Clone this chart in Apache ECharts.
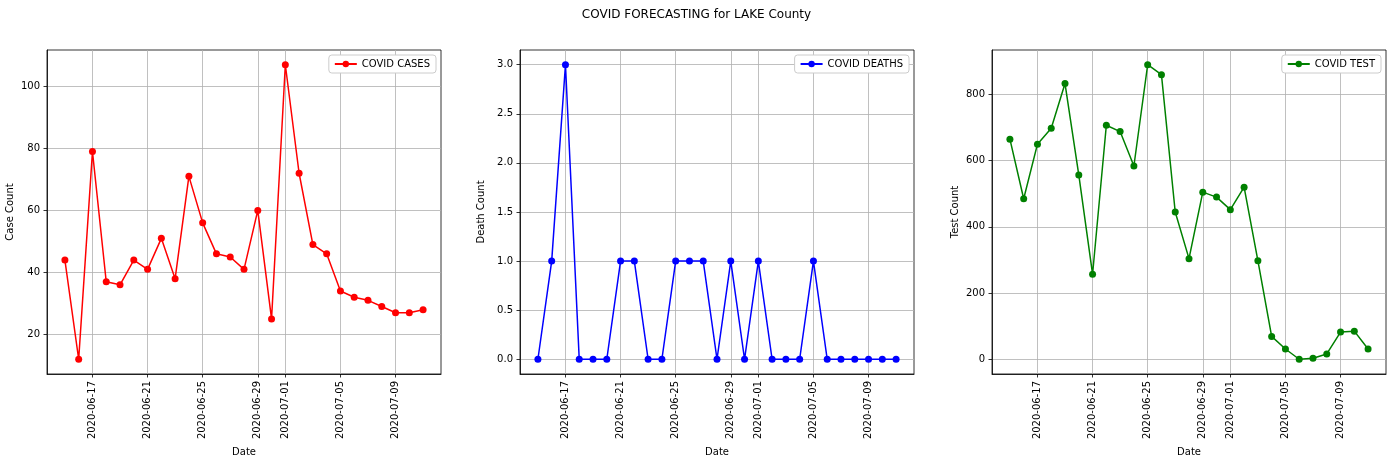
<!DOCTYPE html>
<html>
<head>
<meta charset="utf-8">
<script src="https://cdn.jsdelivr.net/npm/echarts@6/dist/echarts.min.js"></script>
<style>html,body{margin:0;padding:0;background:#fff}#c{width:1393px;height:462px}</style>
</head>
<body>
<div id="c"></div>
<script>
const dates = ['2020-06-15','2020-06-16','2020-06-17','2020-06-18','2020-06-19','2020-06-20','2020-06-21','2020-06-22','2020-06-23','2020-06-24','2020-06-25','2020-06-26','2020-06-27','2020-06-28','2020-06-29','2020-06-30','2020-07-01','2020-07-02','2020-07-03','2020-07-04','2020-07-05','2020-07-06','2020-07-07','2020-07-08','2020-07-09','2020-07-10','2020-07-11'];
const cases = [44,12,79,37,36,44,41,51,38,71,56,46,45,41,60,25,107,72,49,46,34,32,31,29,27,27,28];
const deaths = [0,1,3,0,0,0,1,1,0,0,1,1,1,0,1,0,1,0,0,0,1,0,0,0,0,0,0];
const tests = [665,485,650,698,833,557,257,707,688,584,890,860,445,304,505,490,452,520,298,69,31,0,3,16,82,85,31];
const xTickLabels = ['2020-06-17','2020-06-21','2020-06-25','2020-06-29','2020-07-01','2020-07-05','2020-07-09'];
const caseTicks = [20,40,60,80,100];
const deathTicks = [0,0.5,1,1.5,2,2.5,3];
const testTicks = [0,200,400,600,800];

const FONT = 'DejaVu Sans';
const xTickIdx = xTickLabels.map(d => dates.indexOf(d));
const panels = [
  {name:'COVID CASES', data:cases, color:'#ff0000', yName:'Case Count', ticks:caseTicks, left:47, gap:32, fmt:v=>String(v)},
  {name:'COVID DEATHS', data:deaths, color:'#0000ff', yName:'Death Count', ticks:deathTicks, left:520, gap:34, fmt:v=>v.toFixed(1)},
  {name:'COVID TEST', data:tests, color:'#008000', yName:'Test Count', ticks:testTicks, left:992, gap:32, fmt:v=>String(v)}
];
const W = 394;
function range(arr){const mn=Math.min(...arr), mx=Math.max(...arr), m=(mx-mn)*0.05; return [mn-m, mx+m];}
const n = dates.length;
const xm = (n-1)*0.05;

const option = {
  animation:false,
  backgroundColor:'#fff',
  title:{text:'COVID FORECASTING for LAKE County', left:'center', top:4,
    textStyle:{fontFamily:FONT, fontSize:12, fontWeight:'normal', color:'#000'}},
  grid: panels.map(p=>({left:p.left, top:50, width:W, height:326, show:true, borderColor:'#000', borderWidth:0.8, backgroundColor:'transparent', containLabel:false})),
  legend: panels.map(p=>({data:[p.name], right:1393-(p.left+W)+5, top:55, orient:'vertical',
    backgroundColor:'#fff', borderColor:'#cccccc', borderWidth:1, borderRadius:3, padding:[4,6,4,5],
    itemWidth:22, itemHeight:8, textStyle:{fontFamily:FONT, fontSize:10, color:'#000'}})),
  xAxis: panels.map((p,i)=>({type:'value', gridIndex:i, min:-xm, max:(n-1)+xm,
    name:'Date', nameLocation:'middle', nameGap:71, nameTextStyle:{fontFamily:FONT, fontSize:10, color:'#000'},
    axisLine:{show:true, onZero:false, lineStyle:{color:'#000', width:0.8}},
    axisTick:{show:true, inside:false, length:3.5, customValues:xTickIdx, lineStyle:{color:'#000', width:0.8}},
    axisLabel:{customValues:xTickIdx, rotate:90, margin:7, fontFamily:FONT, fontSize:10, color:'#000', formatter:v=>dates[Math.round(v)]},
    splitLine:{show:true, lineStyle:{color:'#b0b0b0', width:0.8}}})),
  yAxis: panels.map((p,i)=>{const r=range(p.data); return {type:'value', gridIndex:i, min:r[0], max:r[1],
    name:p.yName, nameLocation:'middle', nameGap:p.gap, nameRotate:90, nameTextStyle:{fontFamily:FONT, fontSize:10, color:'#000'},
    axisLine:{show:true, onZero:false, lineStyle:{color:'#000', width:0.8}},
    axisTick:{show:true, inside:false, length:3.5, customValues:p.ticks, lineStyle:{color:'#000', width:0.8}},
    axisLabel:{customValues:p.ticks, margin:7, fontFamily:FONT, fontSize:10, color:'#000', formatter:p.fmt},
    splitLine:{show:true, lineStyle:{color:'#b0b0b0', width:0.8}}};}),
  series: panels.map((p,i)=>({name:p.name, type:'line', xAxisIndex:i, yAxisIndex:i,
    data:p.data.map((v,k)=>[k,v]), symbol:'circle', symbolSize:7, showSymbol:true,
    itemStyle:{color:p.color}, lineStyle:{color:p.color, width:1.5}}))
};
echarts.init(document.getElementById('c')).setOption(option);
</script>
</body>
</html>
